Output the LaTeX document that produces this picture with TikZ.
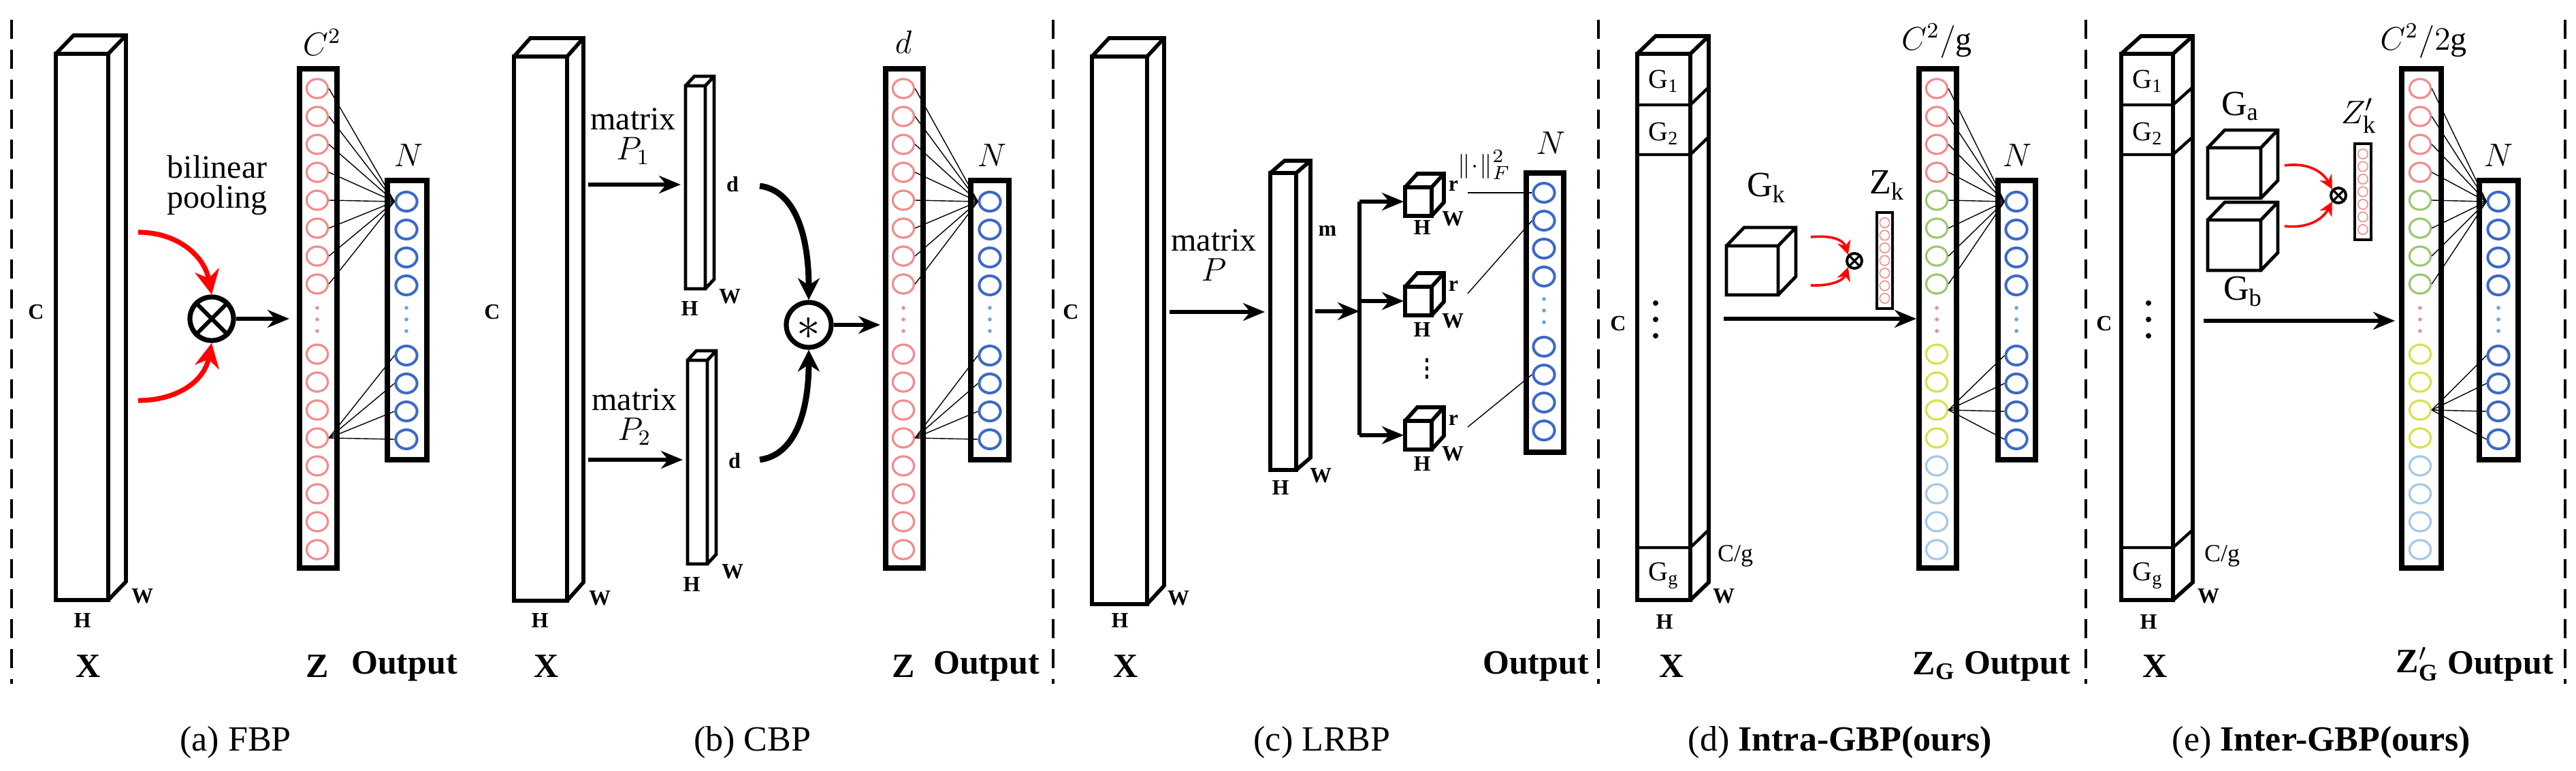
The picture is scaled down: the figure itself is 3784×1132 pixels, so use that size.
\documentclass[tikz,border=0pt]{standalone}
\usepackage{fontspec}
\setmainfont{Liberation Serif}
\usetikzlibrary{arrows.meta,shapes.geometric}
\definecolor{zred}{RGB}{242,140,140}
\definecolor{zgreen}{RGB}{155,200,115}
\definecolor{zyel}{RGB}{215,225,80}
\definecolor{zlb}{RGB}{165,200,235}
\definecolor{oblue}{RGB}{60,105,200}
\definecolor{odot}{RGB}{100,165,220}
\tikzset{
 zc/.style={ellipse,draw,line width=0.8pt,minimum width=7.8pt,minimum height=7pt,inner sep=0pt},
 oc/.style={zc,draw=oblue,line width=1pt},
 tc/.style={ellipse,draw=zred,line width=0.4pt,minimum width=3.6pt,minimum height=3.6pt,inner sep=0pt},
 thinl/.style={line width=0.35pt},
 arr/.style={line width=1.3pt,-{Stealth[length=8pt,width=6.5pt]}},
 redarr/.style={red,line width=1.8pt,-{Stealth[length=9pt,width=9pt]}},
 redsm/.style={red,line width=0.9pt,-{Stealth[length=5pt,width=5pt]}},
 sep/.style={dash pattern=on 7pt off 4pt,line width=1.2pt},
 sm/.style={font=\bfseries\fontsize{8}{8}\selectfont},
 big/.style={font=\bfseries\fontsize{12.5}{13}\selectfont},
 txt/.style={font=\fontsize{12}{13}\selectfont,align=center},
 captxt/.style={font=\fontsize{13}{14}\selectfont},
}
\newcommand\cuboid[7]{%
 \draw[line width=#7] (#1,#2) rectangle (#3,#4)
   (#1,#2) -- ({#1+#5},{#2+#6}) -- ({#3+#5},{#2+#6}) -- ({#3+#5},{#4+#6}) -- (#3,#4)
   (#3,#2) -- ({#3+#5},{#2+#6});}
\newcommand\zcolumn[9]{%
 \draw[line width=1.8pt] (#3,101) rectangle (#4,834);
 \foreach \i [evaluate=\i as \j using int(\i+4)] in {1,...,4}{
   \node[zc,draw=#5] (#1-\i) at (#2,{130+41*(\i-1)}) {};
   \node[zc,draw=#6] (#1-\j) at (#2,{130+41*(\j-1)}) {};
   \node[zc,draw=#7] (#1-b\i) at (#2,{520+41*(\i-1)}) {};
   \node[zc,draw=#8] (#1-b\j) at (#2,{520+41*(\j-1)}) {};
 }
 \foreach \yy in {452,469,486} \fill[#9] (#2,\yy) circle (0.7pt);}
\newcommand\outcol[6]{%
 \draw[line width=1.8pt] (#3,#5) rectangle (#4,{#5+410});
 \foreach \i in {1,...,4}{
   \node[oc] (#1-\i) at (#2,{#6+41*(\i-1)}) {};
   \node[oc] (#1-b\i) at (#2,{#6+226+41*(\i-1)}) {};
 }
 \foreach \k in {156,173,190} \fill[odot] (#2,{#6+\k}) circle (0.7pt);}
\newcommand\grpx[4]{%
 \foreach \yy in {154,227,804} \draw[line width=1.1pt] (#1,\yy) -- (#2,\yy) -- ({#2+#3},{\yy+#4});}
\begin{document}
\begin{tikzpicture}[x=0.25pt,y=-0.25pt]
\useasboundingbox (0,0) rectangle (3784,1132);
\foreach \xx in {17,1547,2348,3064,3768} \draw[sep] (\xx,29) -- (\xx,1004);

% ---------------- (a) FBP
\cuboid{82}{79}{159}{881}{26}{-27}{1.4pt}
\node[sm] at (53,458) {C};
\node[sm] at (121,911) {H};
\node[sm] at (209,875) {W};
\node[big] at (130,978) {X};
\node[txt] at (319,272) {bilinear\\[-2pt]pooling};
\node[circle,draw,line width=1.8pt,minimum size=16pt,inner sep=0pt] (ota) at (311,468) {};
\draw[line width=1.5pt] (ota.45) -- (ota.225) (ota.135) -- (ota.315);
\coordinate (ra1) at (203,341); \coordinate (ra2) at (203,588);
\draw[redarr] (ra1) .. controls (260,341) and (300,375) .. (ota.north);
\draw[redarr] (ra2) .. controls (260,588) and (300,560) .. (ota.south);
\coordinate (za) at (425,468);
\draw[arr] (ota.east) -- (za);
\zcolumn{Za}{466}{440}{495}{zred}{zred}{zred}{zred}{zred}
\outcol{Oa}{597}{569}{627}{265}{296}
\foreach \i in {1,...,8} \draw[thinl] (Za-\i.east) -- (Oa-1.west);
\foreach \i in {1,...,4} \draw[thinl] (Za-b4.east) -- (Oa-b\i.west);
\node[font=\fontsize{12}{12}\selectfont] at (473,62) {$C^2$};
\node[font=\fontsize{12}{12}\selectfont] at (600,228) {$N$};
\node[big] at (466,978) {Z};
\node[big] at (594,978) {Output};
\node[captxt] at (346,1090) {(a) FBP};

% ---------------- (b) CBP
\cuboid{755}{83}{833}{882}{24}{-27}{1.4pt}
\node[sm] at (723,458) {C};
\node[sm] at (793,911) {H};
\node[sm] at (881,878) {W};
\node[big] at (803,978) {X};
\node[txt] at (930,200) {matrix\\[-2pt]$P_1$};
\node[txt] at (932,612) {matrix\\[-2pt]$P_2$};
\coordinate (b1s) at (864,271); \coordinate (b1e) at (1000,271);
\coordinate (b2s) at (864,675); \coordinate (b2e) at (1003,675);
\draw[arr] (b1s) -- (b1e);
\draw[arr] (b2s) -- (b2e);
\cuboid{1007}{126}{1036}{424}{13}{-14}{1.2pt}
\cuboid{1010}{529}{1039}{828}{13}{-14}{1.2pt}
\node[sm] at (1076,271) {d};
\node[sm] at (1013,453) {H};
\node[sm] at (1072,435) {W};
\node[sm] at (1079,677) {d};
\node[sm] at (1016,858) {H};
\node[sm] at (1076,839) {W};
\node[circle,draw,line width=1.8pt,minimum size=16.5pt,inner sep=0pt] (st) at (1188,477) {};
\node at (1188,482) {\LARGE $\ast$};
\coordinate (k1) at (1116,273); \coordinate (k2) at (1116,675);
\draw[line width=2.2pt,-{Stealth[length=8pt,width=8pt]}] (k1) .. controls (1170,280) and (1188,350) .. (st.north);
\draw[line width=2.2pt,-{Stealth[length=8pt,width=8pt]}] (k2) .. controls (1170,668) and (1188,600) .. (st.south);
\coordinate (zb) at (1293,477);
\draw[arr] (st.east) -- (zb);
\zcolumn{Zb}{1327}{1301}{1356}{zred}{zred}{zred}{zred}{zred}
\outcol{Ob}{1454}{1426}{1482}{265}{296}
\foreach \i in {1,...,8} \draw[thinl] (Zb-\i.east) -- (Ob-1.west);
\foreach \i in {1,...,4} \draw[thinl] (Zb-b4.east) -- (Ob-b\i.west);
\node[font=\fontsize{12}{12}\selectfont] at (1327,62) {$d$};
\node[font=\fontsize{12}{12}\selectfont] at (1457,228) {$N$};
\node[big] at (1327,978) {Z};
\node[big] at (1449,978) {Output};
\node[captxt] at (1105,1090) {(b) CBP};

% ---------------- (c) LRBP
\cuboid{1604}{83}{1685}{887}{25}{-27}{1.4pt}
\node[sm] at (1573,458) {C};
\node[sm] at (1645,911) {H};
\node[sm] at (1731,878) {W};
\node[big] at (1654,978) {X};
\node[txt] at (1783,375) {matrix\\[-2pt]$P$};
\coordinate (cs) at (1718,458); \coordinate (ce) at (1858,458);
\draw[arr] (cs) -- (ce);
\cuboid{1866}{254}{1904}{690}{21}{-18}{1.4pt}
\node[sm] at (1950,339) {m};
\node[sm] at (1881,716) {H};
\node[sm] at (1940,698) {W};
\coordinate (ms) at (1932,457); \coordinate (me) at (1997,457);
\draw[arr] (ms) -- (me);
\coordinate (bt) at (1997,296); \coordinate (bb) at (1997,639); \coordinate (bm) at (1997,442);
\draw[line width=1.3pt] (bt) -- (bb);
\coordinate (q1) at (2062,296); \coordinate (q2) at (2062,442); \coordinate (q3) at (2062,639);
\draw[arr] (bt) -- (q1);
\draw[arr] (bm) -- (q2);
\draw[arr] (bb) -- (q3);
\cuboid{2064}{275}{2103}{317}{18}{-20}{1.4pt}
\cuboid{2064}{421}{2103}{463}{18}{-20}{1.4pt}
\cuboid{2064}{618}{2103}{660}{18}{-20}{1.4pt}
\node[sm] at (2135,273) {r}; \node[sm] at (2135,420) {r}; \node[sm] at (2135,617) {r};
\node[sm] at (2134,321) {W}; \node[sm] at (2134,471) {W}; \node[sm] at (2134,666) {W};
\node[sm] at (2089,334) {H}; \node[sm] at (2089,484) {H}; \node[sm] at (2089,681) {H};
\foreach \yy in {526,538,550} \fill (2094,\yy) rectangle (2098,{\yy+6});
\node[font=\fontsize{9.5}{10}\selectfont,inner sep=0pt] at (2180,242) {$\|\!\cdot\!\|_F^2$};
\outcol{Oc}{2268}{2242}{2297}{254}{283}
\coordinate (c1) at (2156,283); \coordinate (c2) at (2156,431); \coordinate (c3) at (2156,627);
\draw[thinl] (c1) -- (Oc-1.west);
\draw[thinl] (c2) -- (Oc-2.west);
\draw[thinl] (c3) -- (Oc-b2.west);
\node[font=\fontsize{12}{12}\selectfont,inner sep=0pt] at (2278,210) {$N$};
\node[big] at (2256,978) {Output};
\node[captxt] at (1942,1090) {(c) LRBP};

% ---------------- (d) Intra-GBP
\cuboid{2405}{79}{2483}{881}{27}{-26}{1.4pt}
\grpx{2405}{2483}{27}{-26}
\node[font=\fontsize{10}{10}\selectfont] at (2444,119) {G\textsubscript{1}};
\node[font=\fontsize{10}{10}\selectfont] at (2444,196) {G\textsubscript{2}};
\node[font=\fontsize{10}{10}\selectfont] at (2444,845) {G\textsubscript{g}};
\foreach \yy in {445,469,493} \fill (2432,\yy) circle (1pt);
\node[sm] at (2377,475) {C};
\node[font=\fontsize{9}{9}\selectfont] at (2549,816) {C/g};
\node[sm] at (2532,875) {W};
\node[sm] at (2445,913) {H};
\node[big] at (2456,978) {X};
\cuboid{2536}{361}{2612}{433}{26}{-27}{1.2pt}
\node[font=\fontsize{13}{13}\selectfont] at (2595,276) {G\textsubscript{k}};
\node[circle,draw,line width=1pt,minimum size=5.5pt,inner sep=0pt] (otd) at (2724,383) {};
\draw[line width=0.8pt] (otd.45) -- (otd.225) (otd.135) -- (otd.315);
\coordinate (rd1) at (2660,348); \coordinate (rd2) at (2660,419);
\draw[redsm] (rd1) .. controls (2690,345) and (2708,352) .. (otd.north west);
\draw[redsm] (rd2) .. controls (2690,420) and (2708,412) .. (otd.south west);
\draw[line width=1pt] (2757,312) rectangle (2780,453);
\foreach \k in {0,...,6} \node[tc] at (2768.5,{327+18.5*\k}) {};
\node[font=\fontsize{13}{13}\selectfont] at (2772,272) {Z\textsubscript{k}};
\coordinate (ds) at (2532,468); \coordinate (de) at (2815,468);
\draw[arr] (ds) -- (de);
\zcolumn{Zd}{2845}{2819}{2874}{zred}{zgreen}{zyel}{zlb}{zred}
\outcol{Od}{2962}{2935}{2990}{265}{296}
\foreach \i in {1,...,8} \draw[thinl] (Zd-\i.east) -- (Od-1.west);
\foreach \i in {1,...,4} \draw[thinl] (Zd-b3.east) -- (Od-b\i.west);
\node[font=\fontsize{12}{12}\selectfont] at (2845,60) {$C^2/\mathrm{g}$};
\node[font=\fontsize{12}{12}\selectfont] at (2963,228) {$N$};
\node[big] at (2841,978) {Z\textsubscript{G}};
\node[big] at (2963,978) {Output};
\node[captxt] at (2703,1090) {(d) \textbf{Intra-GBP(ours)}};

% ---------------- (e) Inter-GBP
\cuboid{3116}{79}{3192}{881}{29}{-26}{1.4pt}
\grpx{3116}{3192}{29}{-26}
\node[font=\fontsize{10}{10}\selectfont] at (3155,119) {G\textsubscript{1}};
\node[font=\fontsize{10}{10}\selectfont] at (3155,196) {G\textsubscript{2}};
\node[font=\fontsize{10}{10}\selectfont] at (3155,845) {G\textsubscript{g}};
\foreach \yy in {445,469,493} \fill (3156,\yy) circle (1pt);
\node[sm] at (3091,475) {C};
\node[font=\fontsize{9}{9}\selectfont] at (3264,816) {C/g};
\node[sm] at (3244,875) {W};
\node[sm] at (3156,913) {H};
\node[big] at (3166,978) {X};
\cuboid{3243}{217}{3321}{291}{25}{-26}{1.2pt}
\cuboid{3243}{323}{3321}{397}{25}{-26}{1.2pt}
\node[font=\fontsize{13}{13}\selectfont] at (3291,156) {G\textsubscript{a}};
\node[font=\fontsize{13}{13}\selectfont] at (3295,428) {G\textsubscript{b}};
\node[circle,draw,line width=1pt,minimum size=5.5pt,inner sep=0pt] (ote) at (3435,287) {};
\draw[line width=0.8pt] (ote.45) -- (ote.225) (ote.135) -- (ote.315);
\coordinate (re1) at (3356,243); \coordinate (re2) at (3356,332);
\draw[redsm] (re1) .. controls (3390,238) and (3412,252) .. (ote.north west);
\draw[redsm] (re2) .. controls (3390,336) and (3412,322) .. (ote.south west);
\draw[line width=1pt] (3459,211) rectangle (3483,352);
\foreach \k in {0,...,6} \node[tc] at (3471,{226+18.5*\k}) {};
\node[font=\fontsize{13}{13}\selectfont] at (3465,170) {$Z'_{\mathrm{k}}$};
\coordinate (es) at (3237,471); \coordinate (ee) at (3518,471);
\draw[arr] (es) -- (ee);
\zcolumn{Ze}{3555}{3528}{3586}{zred}{zgreen}{zyel}{zlb}{zred}
\outcol{Oe}{3670}{3642}{3699}{265}{296}
\foreach \i in {1,...,8} \draw[thinl] (Ze-\i.east) -- (Oe-1.west);
\foreach \i in {1,...,4} \draw[thinl] (Ze-b3.east) -- (Oe-b\i.west);
\node[font=\fontsize{12}{12}\selectfont] at (3560,60) {$C^2/2\mathrm{g}$};
\node[font=\fontsize{12}{12}\selectfont] at (3670,228) {$N$};
\node[big] at (3551,975) {$\mathbf{Z'_G}$};
\node[big] at (3673,978) {Output};
\node[captxt] at (3410,1090) {(e) \textbf{Inter-GBP(ours)}};
\end{tikzpicture}
\end{document}
